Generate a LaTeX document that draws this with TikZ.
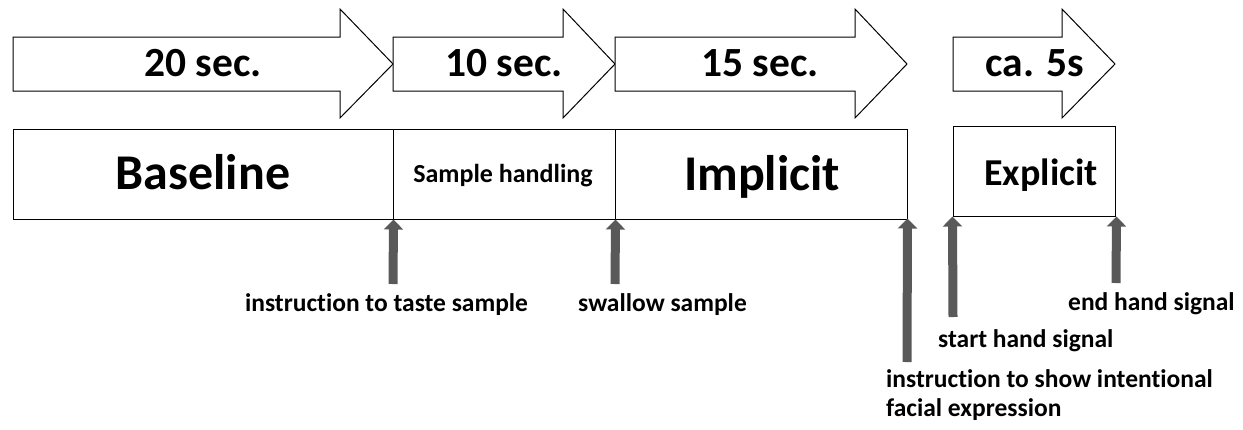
\documentclass[tikz,border=0pt]{standalone}
\usepackage{fontspec}
\setmainfont{Carlito}[Ligatures=NoCommon]
\usetikzlibrary{arrows.meta}
\definecolor{sig}{HTML}{595959}
\tikzset{
  blockarrow/.style={draw=black, line width=1pt, fill=white},
  phase/.style={draw=black, line width=1pt, fill=white, minimum height=90pt, inner sep=0pt},
  durlabel/.style={font=\bfseries\fontsize{41.5}{44}\selectfont, inner sep=0pt, anchor=base},
  biglabel/.style={font=\bfseries\fontsize{50}{54}\selectfont, inner sep=0pt, anchor=base},
  evlabel/.style={font=\bfseries\fontsize{25.5}{29}\selectfont, inner sep=0pt, anchor=base},
  sigarrow/.style={draw=sig, line width=9pt, -{Triangle[width=19pt,length=10pt]}}
}
\begin{document}
\begin{tikzpicture}[x=1pt,y=-1pt]
\useasboundingbox (0,0) rectangle (1243,429);
% block arrows
\draw[blockarrow] (13,37) -- (340,37) -- (340,9) -- (393,64) -- (340,118) -- (340,91) -- (13,91) -- cycle;
\draw[blockarrow] (393,37) -- (563,37) -- (563,9) -- (615,64) -- (563,118) -- (563,91) -- (393,91) -- cycle;
\draw[blockarrow] (615,37) -- (855,37) -- (855,9) -- (907,64) -- (855,118) -- (855,91) -- (615,91) -- cycle;
\draw[blockarrow] (953,37) -- (1062,37) -- (1062,9) -- (1115,64) -- (1062,118) -- (1062,91) -- (953,91) -- cycle;
\node[durlabel] (d1) at (203,76) {20 sec.};
\node[durlabel] (d2) at (504,76) {10 sec.};
\node[durlabel] (d3) at (760,76) {15 sec.};
\node[durlabel] (d4) at (1035,76) {ca. 5s};
% phase boxes
\node[phase, minimum width=380pt] (base) at (203,174) {};
\node[phase, minimum width=222pt] (samp) at (504,174) {};
\node[phase, minimum width=292pt] (impl) at (761,174) {};
\node[phase, minimum width=162pt] (expl) at (1034,171) {};
\node[biglabel] (tb) at (203,189) {Baseline};
\node[font=\bfseries\fontsize{26}{30}\selectfont, inner sep=0pt, anchor=base] (ts) at (503,182) {Sample handling};
\node[biglabel] (ti) at (762,190) {Implicit};
\node[font=\bfseries\fontsize{38}{42}\selectfont, inner sep=0pt, anchor=base] (te) at (1041,185) {Explicit};
% event labels
\node[evlabel] (l1) at (386.5,311) {instruction to taste sample};
\node[evlabel] (l2) at (662.5,311) {swallow sample};
\node[evlabel, anchor=base west] (l3) at (886,387) {instruction to show intentional};
\node[evlabel, anchor=base west] (l3b) at (886,416) {facial expression};
\node[evlabel, anchor=base west] (l4) at (938,347) {start hand signal};
\node[evlabel, anchor=base west] (l5) at (1068,310) {end hand signal};
% signal arrows
\coordinate (t1) at (393,284);
\coordinate (t2) at (615,284);
\coordinate (t3) at (907,362);
\coordinate (t4) at (953,317);
\coordinate (t5) at (1116,283);
\draw[sigarrow] (t1) -- (base.south east);
\draw[sigarrow] (t2) -- (samp.south east);
\draw[sigarrow] (t3) -- ([yshift=1pt]impl.south east);
\draw[sigarrow] (t4) -- (expl.south west);
\draw[sigarrow] (t5) -- ([xshift=1pt]expl.south east);
\end{tikzpicture}
\end{document}
